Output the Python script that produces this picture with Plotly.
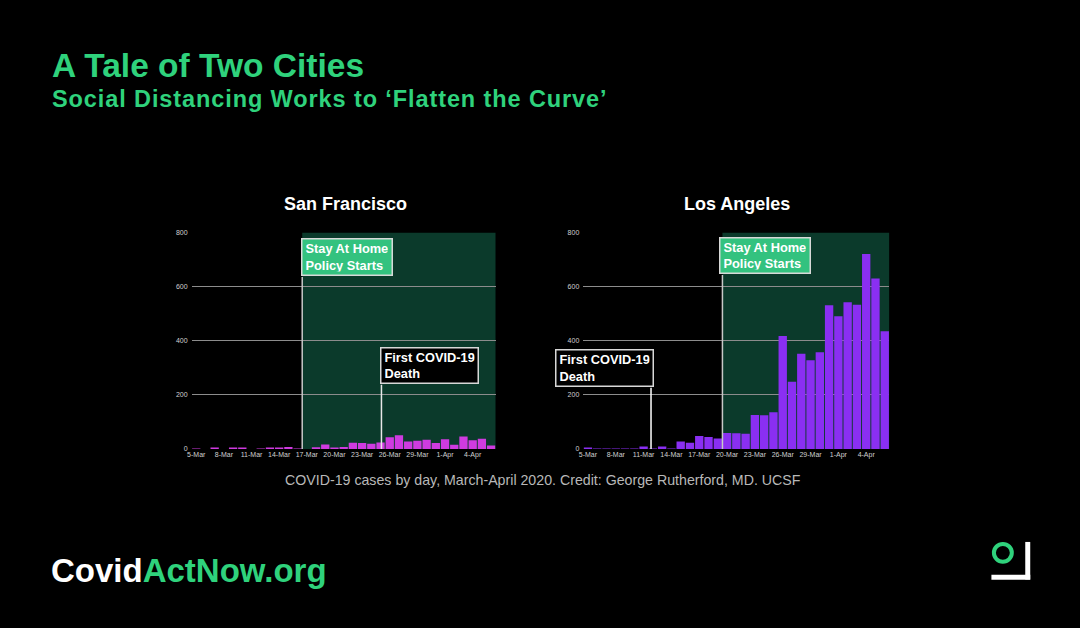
import plotly.graph_objects as go
from plotly.subplots import make_subplots

W, H = 1080, 628

# ---- data ----
dates = ["5-Mar", "6-Mar", "7-Mar", "8-Mar", "9-Mar", "10-Mar", "11-Mar", "12-Mar", "13-Mar",
         "14-Mar", "15-Mar", "16-Mar", "17-Mar", "18-Mar", "19-Mar", "20-Mar", "21-Mar",
         "22-Mar", "23-Mar", "24-Mar", "25-Mar", "26-Mar", "27-Mar", "28-Mar", "29-Mar",
         "30-Mar", "31-Mar", "1-Apr", "2-Apr", "3-Apr", "4-Apr", "5-Apr", "6-Apr"]
sf_cases = [2, 0, 5, 0, 4, 3, 0, 2, 3, 3, 7, 2, 0, 6, 17, 5, 7, 23, 22, 19, 24, 43,
            51, 28, 30, 34, 22, 36, 16, 46, 32, 38, 13]
la_cases = [3, 1, 1, 1, 1, 1, 9, 2, 9, 1, 28, 23, 48, 44, 39, 59, 58, 56, 126, 125,
            136, 417, 248, 352, 328, 357, 531, 490, 542, 533, 720, 630, 435]
tick_labels = dates[::3]
y_ticks = [0, 200, 400, 600, 800]

GREEN = "#2fd27c"
BOX_GREEN = "#33c27f"
SHADE = "#0b3a2b"
SF_COLOR = "#cf3be0"
LA_COLOR = "#8a2ff2"


def px(x):
    return x / W


def py(y):
    return 1 - y / H


fig = make_subplots(rows=1, cols=2)
fig.add_trace(go.Bar(x=dates, y=sf_cases, marker=dict(color=SF_COLOR, line_width=0),
                     hoverinfo="x+y"), row=1, col=1)
fig.add_trace(go.Bar(x=dates, y=la_cases, marker=dict(color=LA_COLOR, line_width=0),
                     hoverinfo="x+y"), row=1, col=2)

axis_common = dict(showline=False, zeroline=False, ticks="")
xa = dict(type="category", categoryorder="array", categoryarray=dates,
          tickvals=tick_labels, ticktext=tick_labels, range=[-0.5, 32.5],
          showgrid=False, tickfont=dict(size=7, color="#d0d0d0", family="Liberation Sans"),
          tickangle=0, **axis_common)
ya = dict(range=[0, 800], tickvals=y_ticks, showgrid=True, gridcolor="#8c8c8c", gridwidth=1,
          ticklabelstandoff=3,
          tickfont=dict(size=7, color="#d0d0d0", family="Liberation Sans"), **axis_common)

fig.update_layout(
    width=W, height=H, margin=dict(l=0, r=0, t=0, b=0),
    paper_bgcolor="#000000", plot_bgcolor="#000000", showlegend=False,
    bargap=0.1,
    xaxis=dict(domain=[px(187.5), px(493)], **xa),
    xaxis2=dict(domain=[px(581), px(888.5)], **xa),
    yaxis=dict(domain=[py(450), py(231)], **ya),
    yaxis2=dict(domain=[py(450), py(231)], **ya),
    font=dict(family="Liberation Sans"),
)

shapes = []
# shaded stay-at-home regions
shapes.append(dict(type="rect", xref="x", yref="y", x0=11.5, x1=32.5, y0=0, y1=800,
                   fillcolor=SHADE, line_width=0, layer="below"))
shapes.append(dict(type="rect", xref="x2", yref="y2", x0=14.5, x1=32.5, y0=0, y1=800,
                   fillcolor=SHADE, line_width=0, layer="below"))
# marker lines
shapes.append(dict(type="line", xref="x", yref="paper", x0=11.5, x1=11.5, y0=py(450), y1=py(276),
                   line=dict(color="#c8c8c8", width=1.5)))
shapes.append(dict(type="line", xref="x", yref="paper", x0=20.1, x1=20.1, y0=py(450), y1=py(385),
                   line=dict(color="#e8e8e8", width=1.5)))
shapes.append(dict(type="line", xref="x2", yref="paper", x0=14.5, x1=14.5, y0=py(450), y1=py(274),
                   line=dict(color="#c8c8c8", width=1.5)))
shapes.append(dict(type="line", xref="x2", yref="paper", x0=6.8, x1=6.8, y0=py(450), y1=py(388),
                   line=dict(color="#ffffff", width=1.5)))
# logo
shapes.append(dict(type="circle", xref="paper", yref="paper",
                   x0=px(993.5), x1=px(1011.5), y0=py(564), y1=py(546),
                   line=dict(color=GREEN, width=4)))
shapes.append(dict(type="rect", xref="paper", yref="paper",
                   x0=px(1025), x1=px(1030), y0=py(582), y1=py(544),
                   fillcolor="#ffffff", line_width=0))
shapes.append(dict(type="rect", xref="paper", yref="paper",
                   x0=px(991), x1=px(1030), y0=py(582.3), y1=py(577.3),
                   fillcolor="#ffffff", line_width=0))
fig.update_layout(shapes=shapes)

ann = []


def text(t, x, y, size, color, bold=False, xanchor="left", yanchor="middle", family="Liberation Sans"):
    ann.append(dict(text=f"<b>{t}</b>" if bold else t, x=px(x), y=py(y), xref="paper", yref="paper",
                    xanchor=xanchor, yanchor=yanchor, showarrow=False,
                    font=dict(size=size, color=color, family=family)))


def box(t, x0, y0, x1, y1, bg, border):
    ann.append(dict(text=f"<b>{t}</b>", x=px(x0 - 4), y=py(y0 - 1), xref="paper", yref="paper",
                    xanchor="left", yanchor="top", showarrow=False, align="left", valign="middle",
                    height=(y1 - y0) - 9,
                    bgcolor=bg, bordercolor=border, borderwidth=1.5, borderpad=3,
                    font=dict(size=12.8, color="#ffffff", family="Liberation Sans")))


text("A Tale of Two Cities", 45, 62.5, 33.5, GREEN, bold=True)
text("<span style='letter-spacing:0.9px'>Social Distancing Works to ‘Flatten the Curve’</span>",
     45, 96, 23.5, GREEN, bold=True)
text("San Francisco", 342.5, 202.5, 18, "#ffffff", bold=True, xanchor="center")
text("Los Angeles", 735, 202.5, 18, "#ffffff", bold=True, xanchor="center")
text("COVID-19 cases by day, March-April 2020. Credit: George Rutherford, MD. UCSF",
     540, 481.5, 14.2, "#b8b8b8", xanchor="center")
ann.append(dict(text="<b>Covid<span style='color:" + GREEN + "'>ActNow.org</span></b>",
                x=px(44), y=py(573), xref="paper", yref="paper", xanchor="left", yanchor="middle",
                showarrow=False, font=dict(size=33, color="#ffffff", family="Liberation Sans")))

box("Stay At Home<br>Policy Starts", 301, 238, 391, 276, BOX_GREEN, "#d8d8d8")
box("Stay At Home<br>Policy Starts", 721.7, 237, 812, 274, BOX_GREEN, "#d8d8d8")
box("First COVID-19<br>Death", 380.7, 347.7, 474, 384.7, "#000000", "#d8d8d8")
box("First COVID-19<br>Death", 557, 350, 650, 387.7, "#000000", "#d8d8d8")

fig.update_layout(annotations=ann)
fig.write_html("out.html", config={"displayModeBar": False},
               post_script="document.body.style.margin='0';document.body.style.overflow='hidden';")
